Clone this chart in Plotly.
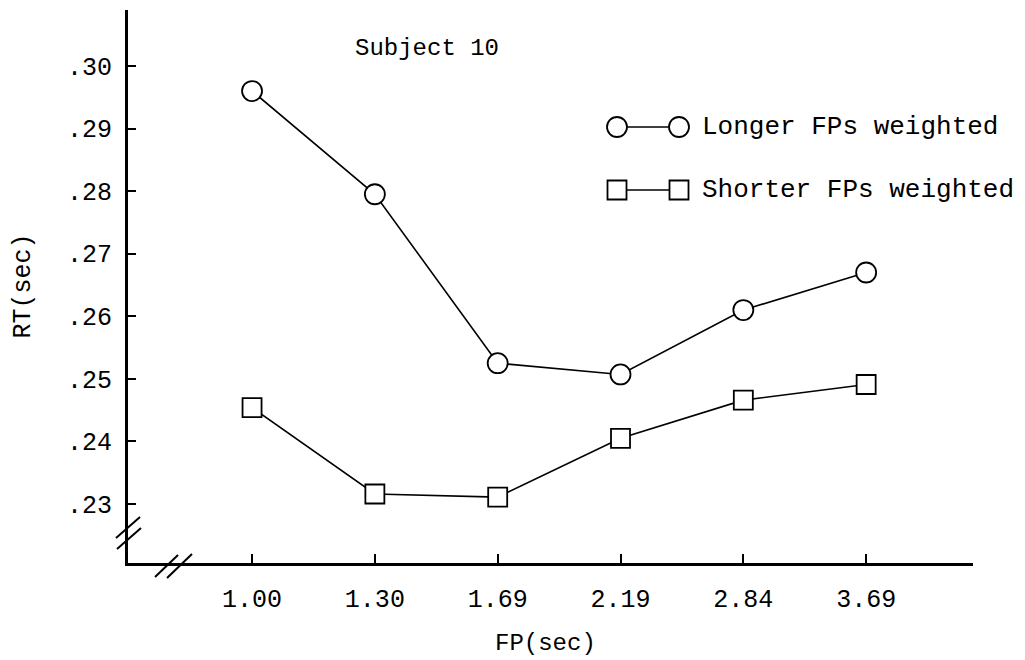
import plotly.graph_objects as go

# ---- data ----
fp_labels = ["1.00", "1.30", "1.69", "2.19", "2.84", "3.69"]
fp_pos = [1, 2, 3, 4, 5, 6]
longer_rt = [0.2960, 0.2795, 0.2525, 0.2507, 0.2610, 0.2670]
shorter_rt = [0.2454, 0.2316, 0.2311, 0.2405, 0.2466, 0.2491]
y_ticks = [0.23, 0.24, 0.25, 0.26, 0.27, 0.28, 0.29, 0.30]
y_ticktext = [".23", ".24", ".25", ".26", ".27", ".28", ".29", ".30"]
series_names = ["Longer FPs weighted", "Shorter FPs weighted"]

FONT = "Liberation Mono"
L, R, T, B = 128, 52, 10, 97
W, H = 1025, 660
PW, PH = W - L - R, H - T - B


def fx(px):
    return (px - L) / PW


def fy(py):
    return (H - B - py) / PH


fig = go.Figure()

circle_marker = dict(symbol="circle", size=20, color="white",
                     line=dict(color="black", width=1.8))
square_marker = dict(symbol="square", size=19, color="white",
                     line=dict(color="black", width=1.8))

fig.add_trace(go.Scatter(x=fp_pos, y=longer_rt, mode="lines+markers",
                         line=dict(color="black", width=1.6),
                         marker=circle_marker, name=series_names[0],
                         showlegend=False))
fig.add_trace(go.Scatter(x=fp_pos, y=shorter_rt, mode="lines+markers",
                         line=dict(color="black", width=1.6),
                         marker=square_marker, name=series_names[1],
                         showlegend=False))

# legend samples drawn on an overlay axis in plot-fraction units
leg_x = [fx(617), fx(679)]
leg_y = [fy(127), fy(190)]
for i, mk in enumerate([circle_marker, square_marker]):
    fig.add_trace(go.Scatter(x=leg_x, y=[leg_y[i], leg_y[i]], mode="lines+markers",
                             line=dict(color="black", width=1.6), marker=mk,
                             xaxis="x2", yaxis="y2", showlegend=False,
                             hoverinfo="skip"))
    fig.add_annotation(x=fx(700), y=leg_y[i], xref="paper", yref="paper",
                       text=series_names[i], showarrow=False, xanchor="left",
                       yanchor="middle", font=dict(family=FONT, size=26, color="black"))

fig.add_annotation(x=fx(353), y=fy(49), xref="paper", yref="paper",
                   text="Subject 10", showarrow=False, xanchor="left",
                   yanchor="middle", font=dict(family=FONT, size=24, color="black"))

# axis titles
fig.add_annotation(x=fx(23), y=0.5, xref="paper", yref="paper", text="RT(sec)",
                   textangle=-90, showarrow=False, xanchor="center", yanchor="middle",
                   font=dict(family=FONT, size=25, color="black"))
fig.add_annotation(x=fx(545), y=fy(643), xref="paper", yref="paper", text="FP(sec)",
                   showarrow=False, xanchor="center", yanchor="middle",
                   font=dict(family=FONT, size=24, color="black"))

# axis break marks
breaks = [((116, 538), (140, 517)), ((117, 549), (141, 528)),
          ((155, 577), (178, 555)), ((167, 578), (192, 554))]
for (x0, y0), (x1, y1) in breaks:
    fig.add_shape(type="line", xref="paper", yref="paper",
                  x0=fx(x0), y0=fy(y0), x1=fx(x1), y1=fy(y1),
                  line=dict(color="black", width=2))

fig.update_layout(
    width=W, height=H,
    margin=dict(l=L, r=R, t=T, b=B),
    paper_bgcolor="white", plot_bgcolor="white",
    font=dict(family=FONT, size=25, color="black"),
    xaxis=dict(range=[-0.01, 6.87], tickvals=fp_pos, ticktext=fp_labels,
               showgrid=False, zeroline=False, showline=True, linecolor="black",
               linewidth=3, ticks="inside", ticklen=9, tickwidth=1.5,
               tickcolor="black", ticklabelstandoff=11,
               tickfont=dict(family=FONT, size=25, color="black")),
    yaxis=dict(range=[0.22057, 0.30895], tickvals=y_ticks, ticktext=y_ticktext,
               showgrid=False, zeroline=False, showline=True, linecolor="black",
               linewidth=3, ticks="inside", ticklen=8, tickwidth=1.5,
               tickcolor="black", ticklabelstandoff=8,
               tickfont=dict(family=FONT, size=25, color="black")),
    xaxis2=dict(range=[0, 1], overlaying="x", visible=False),
    yaxis2=dict(range=[0, 1], overlaying="y", visible=False),
)

fig.write_html("out.html")
